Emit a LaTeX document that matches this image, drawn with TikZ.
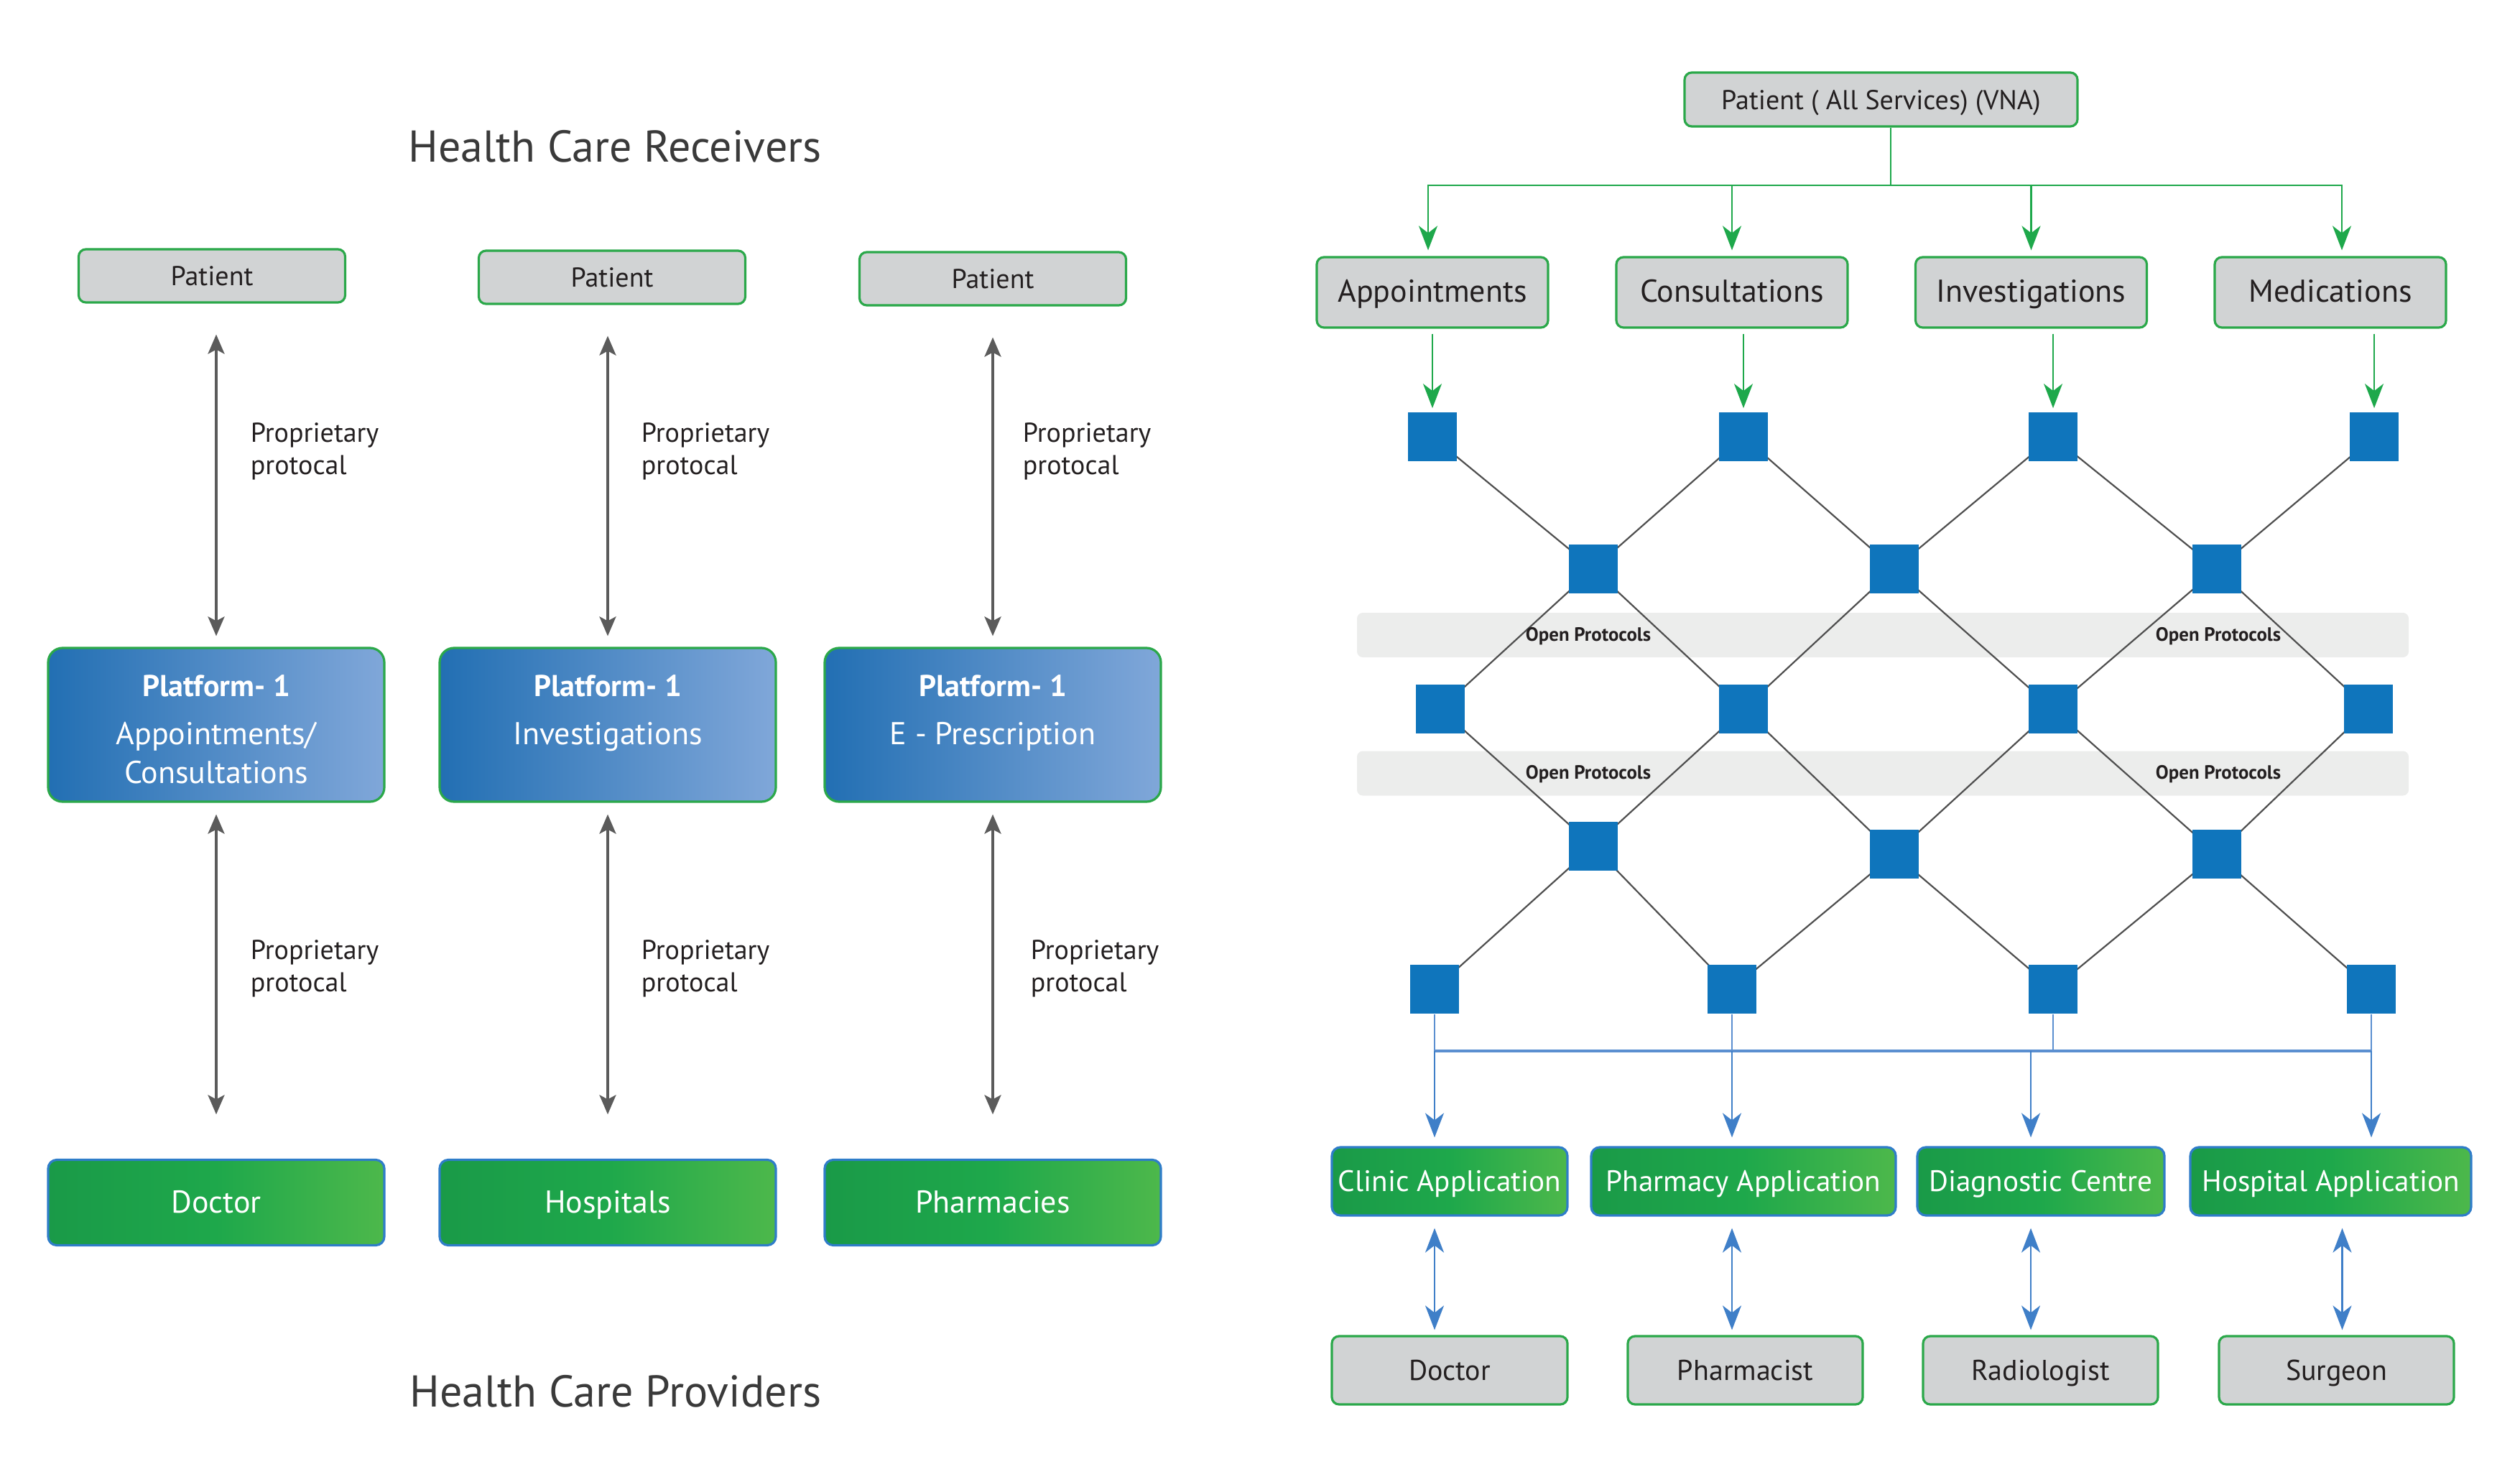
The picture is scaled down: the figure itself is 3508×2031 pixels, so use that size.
\documentclass[tikz,border=0pt]{standalone}
\usepackage{fontspec}
\setmainfont{PT Sans}
\usetikzlibrary{arrows.meta,backgrounds}

\definecolor{boxgray}{HTML}{D1D3D4}
\definecolor{bgreen}{HTML}{2BA84A}
\definecolor{txt}{HTML}{231F20}
\definecolor{ttl}{HTML}{3A3A3A}
\definecolor{sqblue}{HTML}{0F75BC}
\definecolor{bandgray}{HTML}{ECEDEC}
\definecolor{linegray}{HTML}{4F4F4F}
\definecolor{arrgray}{HTML}{5B5B5B}
\definecolor{plL}{HTML}{226FB3}
\definecolor{plR}{HTML}{80A7D9}
\definecolor{gnL}{HTML}{1A9A48}
\definecolor{gnM}{HTML}{1EA84B}
\definecolor{gnR}{HTML}{4DB84B}
\definecolor{bborder}{HTML}{2F7DC9}
\definecolor{barrow}{HTML}{3F7FC8}
\definecolor{busblue}{HTML}{5B8FD0}
\definecolor{garrowc}{HTML}{1EA84B}

\tikzset{
  graybox/.style={draw=bgreen, line width=0.8pt, fill=boxgray, rounded corners=2.5pt, inner sep=0pt, text=txt, text height=0.7em, text depth=0pt},
  platbox/.style={draw=bgreen, line width=0.8pt, left color=plL, right color=plR, rounded corners=5pt, inner sep=0pt},
  greenbox/.style={draw=bborder, line width=0.8pt, left color=gnL, right color=gnR, middle color=gnM, rounded corners=3pt, inner sep=0pt, text=white, text height=0.7em, text depth=0pt},
  sqnode/.style={fill=sqblue, minimum size=17pt, inner sep=0pt},
  bandnode/.style={fill=bandgray, rounded corners=2pt, minimum width=366pt, minimum height=15.5pt, inner sep=0pt},
  meshline/.style={draw=linegray, line width=0.55pt},
  grayarr/.style={draw=arrgray, line width=0.9pt, {Stealth[length=6.75pt,width=5.75pt,inset=1.5pt]}-{Stealth[length=6.75pt,width=5.75pt,inset=1.5pt]}},
  grnline/.style={draw=garrowc, line width=0.6pt},
  grnarr/.style={draw=garrowc, line width=0.6pt, -{Stealth[length=8.5pt,width=6.5pt,inset=2.5pt]}},
  bluearr/.style={draw=barrow, line width=0.6pt, -{Stealth[length=8.5pt,width=6.5pt,inset=2.5pt]}},
  bluedarr/.style={draw=barrow, line width=0.6pt, {Stealth[length=8.5pt,width=6.5pt,inset=2.5pt]}-{Stealth[length=8.5pt,width=6.5pt,inset=2.5pt]}},
  protlbl/.style={anchor=west, align=left, inner sep=0pt, text=txt, font=\fontsize{9.5}{11.25}\selectfont},
  openlbl/.style={inner sep=0pt, text=txt, font=\bfseries\fontsize{6.7}{7.5}\selectfont},
  titlelbl/.style={anchor=base west, inner sep=0pt, text=ttl, font=\fontsize{15.5}{18}\selectfont},
  pltxt/.style={anchor=north, align=center, inner sep=0pt, text=white, font=\fontsize{11}{13.5}\selectfont}
}

\begin{document}
\begin{tikzpicture}[x=0.25pt,y=-0.25pt]
\useasboundingbox (0,0) rectangle (3508,2031);

% ---------------- Left part ----------------
\node[titlelbl] (recv) at (568,226) {Health Care Receivers};
\node[titlelbl] (prov) at (570,1958) {Health Care Providers};

\node[graybox, minimum width=92.75pt, minimum height=18.5pt, font=\fontsize{9.5}{11}\selectfont] (P1) at (295,384) {Patient};
\node[graybox, minimum width=92.75pt, minimum height=18.5pt, font=\fontsize{9.5}{11}\selectfont] (P2) at (852,386) {Patient};
\node[graybox, minimum width=92.75pt, minimum height=18.5pt, font=\fontsize{9.5}{11}\selectfont] (P3) at (1382,388) {Patient};

\node[platbox, minimum width=117pt, minimum height=53.5pt] (PL1) at (301,1009) {};
\node[platbox, minimum width=117pt, minimum height=53.5pt] (PL2) at (846,1009) {};
\node[platbox, minimum width=117pt, minimum height=53.5pt] (PL3) at (1382,1009) {};
\node[pltxt] (PT1) at ([yshift=-9.5pt]PL1.north) {{\bfseries\fontsize{10.5}{13.5}\selectfont Platform- 1}\\[3.25pt]Appointments/\\Consultations};
\node[pltxt] (PT2) at ([yshift=-9.5pt]PL2.north) {{\bfseries\fontsize{10.5}{13.5}\selectfont Platform- 1}\\[3.25pt]Investigations};
\node[pltxt] (PT3) at ([yshift=-9.5pt]PL3.north) {{\bfseries\fontsize{10.5}{13.5}\selectfont Platform- 1}\\[3.25pt]E - Prescription};

\node[greenbox, minimum width=117pt, minimum height=29.75pt, font=\fontsize{11}{13}\selectfont] (G1) at (301,1674) {Doctor};
\node[greenbox, minimum width=117pt, minimum height=29.75pt, font=\fontsize{11}{13}\selectfont] (G2) at (846,1674) {Hospitals};
\node[greenbox, minimum width=117pt, minimum height=29.75pt, font=\fontsize{11}{13}\selectfont] (G3) at (1382,1674) {Pharmacies};

\foreach \i in {1,2,3}{
  \draw[grayarr, shorten <=10.75pt, shorten >=3.75pt] (P\i.south -| PL\i.north) -- (PL\i.north);
  \draw[grayarr, shorten <=4pt, shorten >=15.4pt] (PL\i.south) -- (G\i.north);
}

\node[protlbl] (L1) at (348,628) {Proprietary\\protocal};
\node[protlbl] (L2) at (892,628) {Proprietary\\protocal};
\node[protlbl] (L3) at (1423,628) {Proprietary\\protocal};
\node[protlbl] (L4) at (348,1348) {Proprietary\\protocal};
\node[protlbl] (L5) at (892,1348) {Proprietary\\protocal};
\node[protlbl] (L6) at (1434,1348) {Proprietary\\protocal};

% ---------------- Right part ----------------
\node[graybox, minimum width=136.75pt, minimum height=18.75pt, font=\fontsize{9.5}{11}\selectfont] (VNA) at (2618.5,138.5) {Patient ( All Services) (VNA)};

\node[graybox, minimum width=80.5pt, minimum height=24.5pt, font=\fontsize{11}{13}\selectfont] (SA) at (1994,407) {Appointments};
\node[graybox, minimum width=80.5pt, minimum height=24.5pt, font=\fontsize{11}{13}\selectfont] (SC) at (2411,407) {Consultations};
\node[graybox, minimum width=80.5pt, minimum height=24.5pt, font=\fontsize{11}{13}\selectfont] (SI) at (2827.5,407) {Investigations};
\node[graybox, minimum width=80.5pt, minimum height=24.5pt, font=\fontsize{11}{13}\selectfont] (SM) at (3244,407) {Medications};

\coordinate (J) at (2632,258);
\draw[grnline] (VNA.south -| J) -- (J);
\draw[grnarr, shorten >=2pt] (J) -| ([xshift=-1.5pt]SA.north);
\draw[grnarr, shorten >=2pt] (J) -| (SC.north);
\draw[grnarr, shorten >=2pt] (J) -| (SI.north);
\draw[grnarr, shorten >=2pt] (J) -| ([xshift=4pt]SM.north);

% squares
\node[sqnode] (r1a) at (1994,608) {};
\node[sqnode] (r1b) at (2427,608) {};
\node[sqnode] (r1c) at (2858,608) {};
\node[sqnode] (r1d) at (3305,608) {};
\node[sqnode] (r2a) at (2218,792) {};
\node[sqnode] (r2b) at (2637,792) {};
\node[sqnode] (r2c) at (3086,792) {};
\node[sqnode] (r3a) at (2005,987) {};
\node[sqnode] (r3b) at (2427,987) {};
\node[sqnode] (r3c) at (2858,987) {};
\node[sqnode] (r3d) at (3297,987) {};
\node[sqnode] (r4a) at (2218,1178) {};
\node[sqnode] (r4b) at (2637,1189) {};
\node[sqnode] (r4c) at (3086,1189) {};
\node[sqnode] (r5a) at (1997,1377) {};
\node[sqnode] (r5b) at (2411,1377) {};
\node[sqnode] (r5c) at (2858,1377) {};
\node[sqnode] (r5d) at (3301,1377) {};

\begin{pgfonlayer}{background}
  \node[bandnode] (band1) at (2621,884) {};
  \node[bandnode] (band2) at (2621,1076.5) {};
  \foreach \a/\b in {r1a/r2a,r1b/r2a,r1b/r2b,r1c/r2b,r1c/r2c,r1d/r2c,
                     r2a/r3a,r2a/r3b,r2b/r3b,r2b/r3c,r2c/r3c,r2c/r3d,
                     r3a/r4a,r3b/r4a,r3b/r4b,r3c/r4b,r3c/r4c,r3d/r4c,
                     r4a/r5a,r4a/r5b,r4b/r5b,r4b/r5c,r4c/r5c,r4c/r5d}
    \draw[meshline] (\a.center) -- (\b.center);
\end{pgfonlayer}

\node[openlbl] (op1) at (2211,886) {Open Protocols};
\node[openlbl] (op2) at (3088,886) {Open Protocols};
\node[openlbl] (op3) at (2211,1078) {Open Protocols};
\node[openlbl] (op4) at (3088,1078) {Open Protocols};

\draw[grnarr, shorten <=1.75pt, shorten >=1.25pt] (SA.south -| r1a.north) -- (r1a.north);
\draw[grnarr, shorten <=1.75pt, shorten >=1.25pt] (SC.south -| r1b.north) -- (r1b.north);
\draw[grnarr, shorten <=1.75pt, shorten >=1.25pt] (SI.south -| r1c.north) -- (r1c.north);
\draw[grnarr, shorten <=1.75pt, shorten >=1.25pt] (SM.south -| r1d.north) -- (r1d.north);

% application boxes
\node[greenbox, minimum width=82pt, minimum height=23.75pt, font=\fontsize{10.3}{12}\selectfont] (CA) at (2018,1644.5) {Clinic Application};
\node[greenbox, minimum width=106pt, minimum height=23.75pt, font=\fontsize{10.3}{12}\selectfont] (PA) at (2427,1644.5) {Pharmacy Application};
\node[greenbox, minimum width=86pt, minimum height=23.75pt, font=\fontsize{10.3}{12}\selectfont] (DC) at (2841,1644.5) {Diagnostic Centre};
\node[greenbox, minimum width=97.75pt, minimum height=23.75pt, font=\fontsize{10.3}{12}\selectfont] (HA) at (3244.5,1644.5) {Hospital Application};

% person boxes
\node[graybox, minimum width=82pt, minimum height=23.75pt, font=\fontsize{10}{12}\selectfont] (Doc) at (2018,1907.5) {Doctor};
\node[graybox, minimum width=81.75pt, minimum height=23.75pt, font=\fontsize{10}{12}\selectfont] (Pha) at (2429.5,1907.5) {Pharmacist};
\node[graybox, minimum width=81.75pt, minimum height=23.75pt, font=\fontsize{10}{12}\selectfont] (Rad) at (2840.5,1907.5) {Radiologist};
\node[graybox, minimum width=81.75pt, minimum height=23.75pt, font=\fontsize{10}{12}\selectfont] (Sur) at (3252.5,1907.5) {Surgeon};

% bus
\coordinate (busL) at (1997,1463);
\coordinate (busR) at (3301,1463);
\draw[draw=busblue, line width=1pt] (busL) -- (busR);
\foreach \s in {r5a,r5b,r5c,r5d}
  \draw[draw=busblue, line width=0.5pt] (\s.south) -- (\s.south |- busL);

\draw[bluearr, shorten >=3pt] (r5a |- busL) -- (CA.north -| r5a);
\draw[bluearr, shorten >=3pt] (r5b |- busL) -- (PA.north -| r5b);
\draw[bluearr, shorten >=3pt] ([xshift=-3.5pt]DC.north |- busL) -- ([xshift=-3.5pt]DC.north);
\draw[bluearr, shorten >=3pt] (r5d |- busL) -- (HA.north -| r5d);

\draw[bluedarr, shorten <=4pt, shorten >=1.75pt] (CA.south -| r5a) -- (Doc.north -| r5a);
\draw[bluedarr, shorten <=4pt, shorten >=1.75pt] (PA.south -| r5b) -- (Pha.north -| r5b);
\draw[bluedarr, shorten <=4pt, shorten >=1.75pt] ([xshift=-3.5pt]DC.south) -- ([xshift=-3.5pt]DC.south |- Rad.north);
\draw[bluedarr, shorten <=4pt, shorten >=1.75pt] ([xshift=2pt]Sur.north |- HA.south) -- ([xshift=2pt]Sur.north);

\end{tikzpicture}
\end{document}
